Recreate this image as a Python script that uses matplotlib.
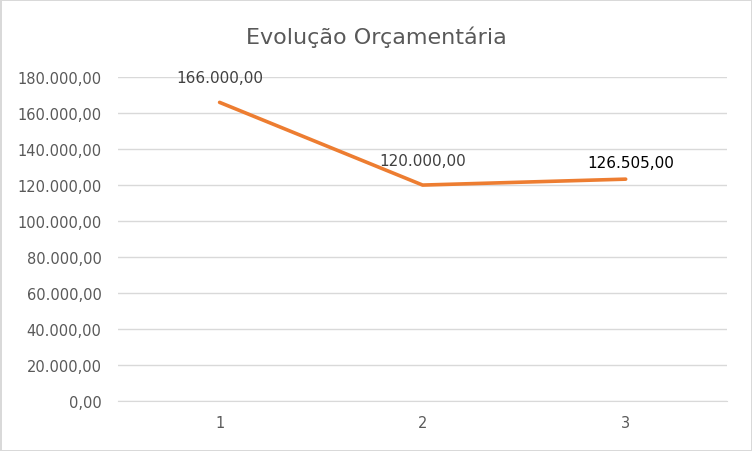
import matplotlib.pyplot as plt
from matplotlib.ticker import FuncFormatter

# Data
categories = [1, 2, 3]
values = [166000, 120000, 123300]
point_labels = ['166.000,00', '120.000,00', '126.505,00']
title = 'Evolução Orçamentária'

# label styling (colour and offset in points from the point)
label_colors = ['#404040', '#404040', '#000000']
label_offsets = [(0, 18), (0, 18), (4, 12)]


def br_format(v, pos=None):
    # Brazilian number format: 180.000,00
    s = f'{v:,.2f}'
    return s.replace(',', 'X').replace('.', ',').replace('X', '.')


fig = plt.figure(figsize=(7.52, 4.52), dpi=100)
fig.patch.set_edgecolor('#D9D9D9')
fig.patch.set_linewidth(2)
ax = fig.add_axes([0.157, 0.111, 0.810, 0.716])

ax.plot(categories, values, color='#ED7D31', linewidth=2.6, solid_capstyle='round', zorder=3)
for x, y, lab, c, off in zip(categories, values, point_labels, label_colors, label_offsets):
    ax.annotate(lab, (x, y), xytext=off, textcoords='offset points',
                ha='center', va='center', fontsize=11, color=c)

ax.set_xlim(0.5, 3.5)
ax.set_ylim(0, 180000)
ax.set_yticks(range(0, 180001, 20000))
ax.yaxis.set_major_formatter(FuncFormatter(br_format))
ax.set_xticks(categories)
ax.grid(axis='y', color='#D9D9D9', linewidth=1)
ax.set_axisbelow(True)
for side in ['top', 'right', 'left']:
    ax.spines[side].set_visible(False)
ax.spines['bottom'].set_color('#D9D9D9')
ax.tick_params(axis='both', length=0, labelsize=10.5, colors='#595959')
ax.tick_params(axis='y', pad=12)
ax.tick_params(axis='x', pad=10)

fig.text(0.5, 0.918, title, ha='center', va='center', fontsize=16, color='#595959')

fig.savefig('out.png', dpi=100)
